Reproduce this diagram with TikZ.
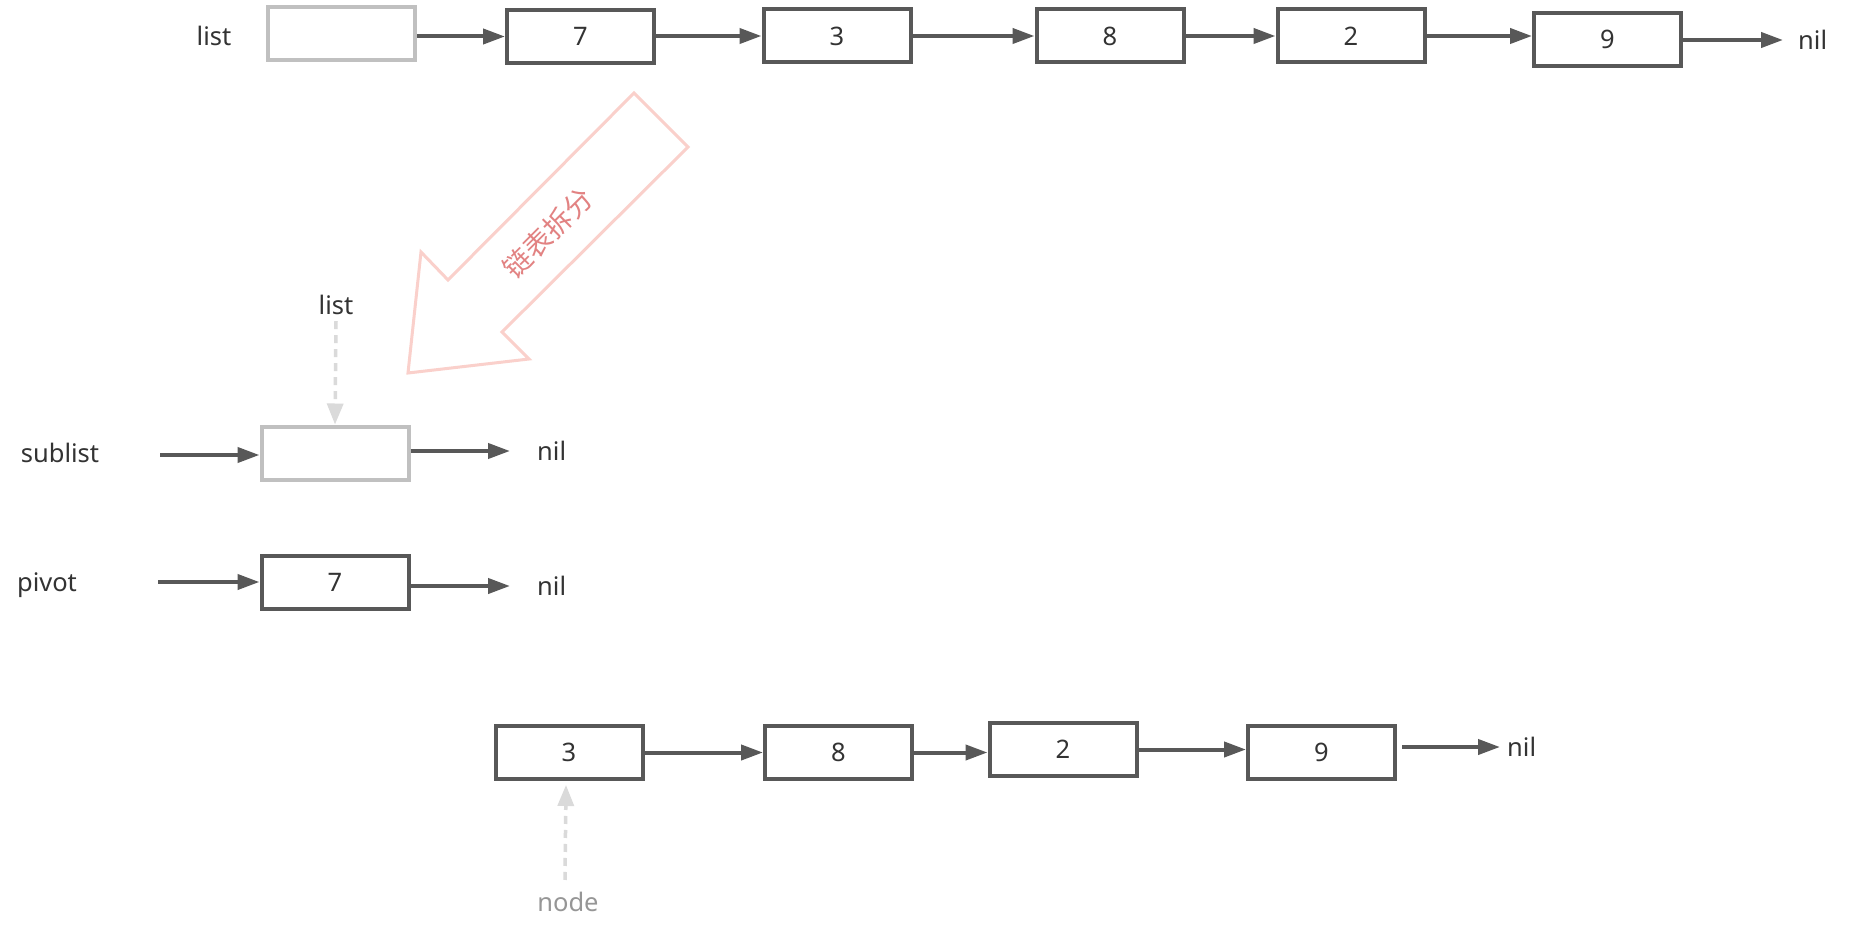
\documentclass[tikz,border=0pt]{standalone}
\usepackage{fontspec}
\setmainfont{Noto Sans}
\newfontfamily\cjk{Noto Sans CJK SC}
\usetikzlibrary{arrows.meta}
\definecolor{boxc}{RGB}{88,88,88}
\definecolor{ghostc}{RGB}{192,192,192}
\definecolor{dashc}{RGB}{218,218,218}
\definecolor{txtc}{RGB}{51,51,51}
\definecolor{nodec}{RGB}{150,150,150}
\definecolor{blockc}{RGB}{250,208,203}
\definecolor{splitc}{RGB}{226,130,130}
\begin{document}
\begin{tikzpicture}[x=1pt,y=-1pt,
  cell/.style={draw=boxc, line width=4pt, minimum width=147pt, minimum height=53pt, inner sep=0pt, font=\fontsize{25.5}{30}\selectfont, text=txtc},
  ghost/.style={cell, draw=ghostc},
  lbl/.style={font=\fontsize{25.5}{30}\selectfont, text=txtc, inner sep=0pt},
  link/.style={draw=boxc, line width=4pt, -{Triangle[length=22pt,width=15pt]}},
  ptr/.style={draw=dashc, line width=3.5pt, dash pattern=on 8pt off 6pt, -{Triangle[length=21pt,width=16pt]}}
]
\path[use as bounding box, fill=white] (0,0) rectangle (1861,939);

% top row
\node[lbl] (listA) at (214,36) {list};
\node[ghost] (L0) at (341.5,33.5) {};
\node[cell] (T7) at (580.5,36.5) {7};
\node[cell] (T3) at (837,36) {3};
\node[cell] (T8) at (1110,36) {8};
\node[cell] (T2) at (1351,36) {2};
\node[cell] (T9) at (1607.5,39.5) {9};
\node[lbl, anchor=west] (nilA) at (1798,40) {nil};
\draw[link] (L0.east |- T7) -- (T7.west);
\draw[link] (T7.east |- T3) -- (T3.west);
\draw[link] (T3.east) -- (T8.west);
\draw[link] (T8.east) -- (T2.west);
\draw[link] (T2.east) -- (T9.west |- T2.east);
\draw[link, shorten >=15pt] (T9.east |- nilA.west) -- (nilA.west);

% split arrow
\draw[blockc, line width=3pt, line join=miter] (408,373) -- (421,252) -- (448,280) -- (634,93) -- (688,147) -- (502,332) -- (529,359) -- cycle;
\node[rotate=45, text=splitc, inner sep=0pt, font=\cjk\fontsize{28}{32}\selectfont] (split) at (548,233) {链表拆分};

% middle
\node[lbl] (listB) at (336,305) {list};
\node[ghost] (SL) at (335,453) {};
\draw[ptr] ([yshift=-6pt]listB.south) -- (SL.north);
\node[lbl] (sublist) at (60,453) {sublist};
\coordinate (sublistS) at (160,455);
\draw[link] (sublistS) -- (SL.west |- sublistS);
\node[lbl, anchor=west] (nilB) at (537,451) {nil};
\draw[link, shorten >=27pt] (SL.east |- nilB.west) -- (nilB.west);

\node[lbl] (pivot) at (47,585) {pivot};
\coordinate (pivotS) at (158,582);
\node[cell] (PV) at (335,582) {7};
\draw[link] (pivotS) -- (PV.west |- pivotS);
\node[lbl, anchor=west] (nilC) at (537,586) {nil};
\draw[link, shorten >=27pt] (PV.east |- nilC.west) -- (nilC.west);

% bottom row
\node[cell] (B3) at (569,752.5) {3};
\node[cell] (B8) at (838.5,752.5) {8};
\node[cell] (B2) at (1063,749.5) {2};
\node[cell] (B9) at (1321.5,752.5) {9};
\node[lbl, anchor=west] (nilD) at (1507,747) {nil};
\draw[link] (B3.east) -- (B8.west);
\draw[link] (B8.east) -- (B2.west |- B8.east);
\draw[link] (B2.east) -- (B9.west |- B2.east);
\draw[link, shorten <=5pt, shorten >=7pt] (B9.east |- nilD.west) -- (nilD.west);
\node[lbl, text=nodec] (nodeL) at (568,902) {node};
\draw[ptr] ([xshift=-3pt, yshift=12pt]nodeL.north) -- ([xshift=-3pt, yshift=-4pt]B3.south);
\end{tikzpicture}
\end{document}
